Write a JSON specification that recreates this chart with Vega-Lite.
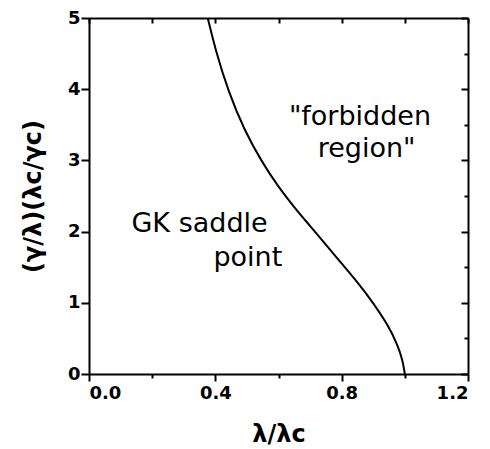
{
  "$schema": "https://vega.github.io/schema/vega-lite/v6.json",
  "width": 379,
  "height": 356,
  "autosize": {"type": "none"},
  "padding": {"left": 89, "top": 18, "right": 22, "bottom": 75},
  "background": "white",
  "config": {
    "view": {"stroke": null},
    "axis": {
      "grid": false,
      "domainColor": "black",
      "domainWidth": 2,
      "tickColor": "black",
      "tickWidth": 2,
      "labelColor": "black",
      "titleColor": "black",
      "labelFont": "DejaVu Sans",
      "labelFontWeight": "bold",
      "labelFontSize": 18,
      "titleFont": "DejaVu Sans",
      "titleFontWeight": "bold",
      "titleFontSize": 24
    }
  },
  "layer": [
    {
      "data": {
        "values": [
          {"x": 0.376, "y": 5.0},
          {"x": 0.399, "y": 4.574},
          {"x": 0.441, "y": 3.965},
          {"x": 0.494, "y": 3.403},
          {"x": 0.547, "y": 2.982},
          {"x": 0.599, "y": 2.630},
          {"x": 0.652, "y": 2.330},
          {"x": 0.700, "y": 2.080},
          {"x": 0.742, "y": 1.858},
          {"x": 0.795, "y": 1.577},
          {"x": 0.848, "y": 1.300},
          {"x": 0.900, "y": 1.000},
          {"x": 0.945, "y": 0.700},
          {"x": 0.975, "y": 0.430},
          {"x": 0.993, "y": 0.200},
          {"x": 1.0, "y": 0.0}
        ]
      },
      "mark": {"type": "line", "interpolate": "basis", "color": "black", "strokeWidth": 2, "clip": true},
      "encoding": {
        "x": {
          "field": "x", "type": "quantitative",
          "scale": {"domain": [0, 1.2], "nice": false, "zero": false},
          "axis": {
            "orient": "bottom",
            "values": [0, 0.2, 0.4, 0.6, 0.8, 1.0, 1.2],
            "format": ".1f",
            "labelExpr": "round(datum.value * 10) % 4 === 0 ? datum.label : ''",
            "tickSize": {"condition": {"test": "round(datum.value * 10) % 4 === 0", "value": 7}, "value": 4},
            "labelPadding": 3,
            "title": "λ/λc",
            "titlePadding": 20
          }
        },
        "y": {
          "field": "y", "type": "quantitative",
          "scale": {"domain": [0, 5], "nice": false},
          "axis": {
            "orient": "left",
            "values": [0, 0.5, 1, 1.5, 2, 2.5, 3, 3.5, 4, 4.5, 5],
            "format": "d",
            "labelExpr": "datum.value % 1 === 0 ? datum.label : ''",
            "tickSize": {"condition": {"test": "datum.value % 1 === 0", "value": 8}, "value": 4},
            "labelPadding": 1,
            "title": "(γ/λ)(λc/γc)",
            "titlePadding": 22
          }
        }
      }
    },
    {
      "data": {
        "values": [
          {"x": 0.35, "y": 1.99, "label": "GK saddle"},
          {"x": 0.503, "y": 1.52, "label": "point"},
          {"x": 0.858, "y": 3.5, "label": "\"forbidden"},
          {"x": 0.879, "y": 3.05, "label": "region\""}
        ]
      },
      "mark": {"type": "text", "font": "DejaVu Sans", "fontSize": 27, "fontWeight": "normal", "align": "center", "baseline": "alphabetic", "color": "black"},
      "encoding": {
        "x": {
          "field": "x", "type": "quantitative",
          "axis": {
            "orient": "top",
            "values": [0, 0.2, 0.4, 0.6, 0.8, 1.0, 1.2],
            "labels": false,
            "title": null,
            "tickSize": -5
          }
        },
        "y": {
          "field": "y", "type": "quantitative",
          "axis": {
            "orient": "right",
            "values": [0, 0.5, 1, 1.5, 2, 2.5, 3, 3.5, 4, 4.5, 5],
            "labels": false,
            "title": null,
            "tickSize": {"condition": {"test": "datum.value % 1 === 0", "value": -7}, "value": -4}
          }
        },
        "text": {"field": "label"}
      }
    }
  ],
  "resolve": {"axis": {"x": "independent", "y": "independent"}}
}
